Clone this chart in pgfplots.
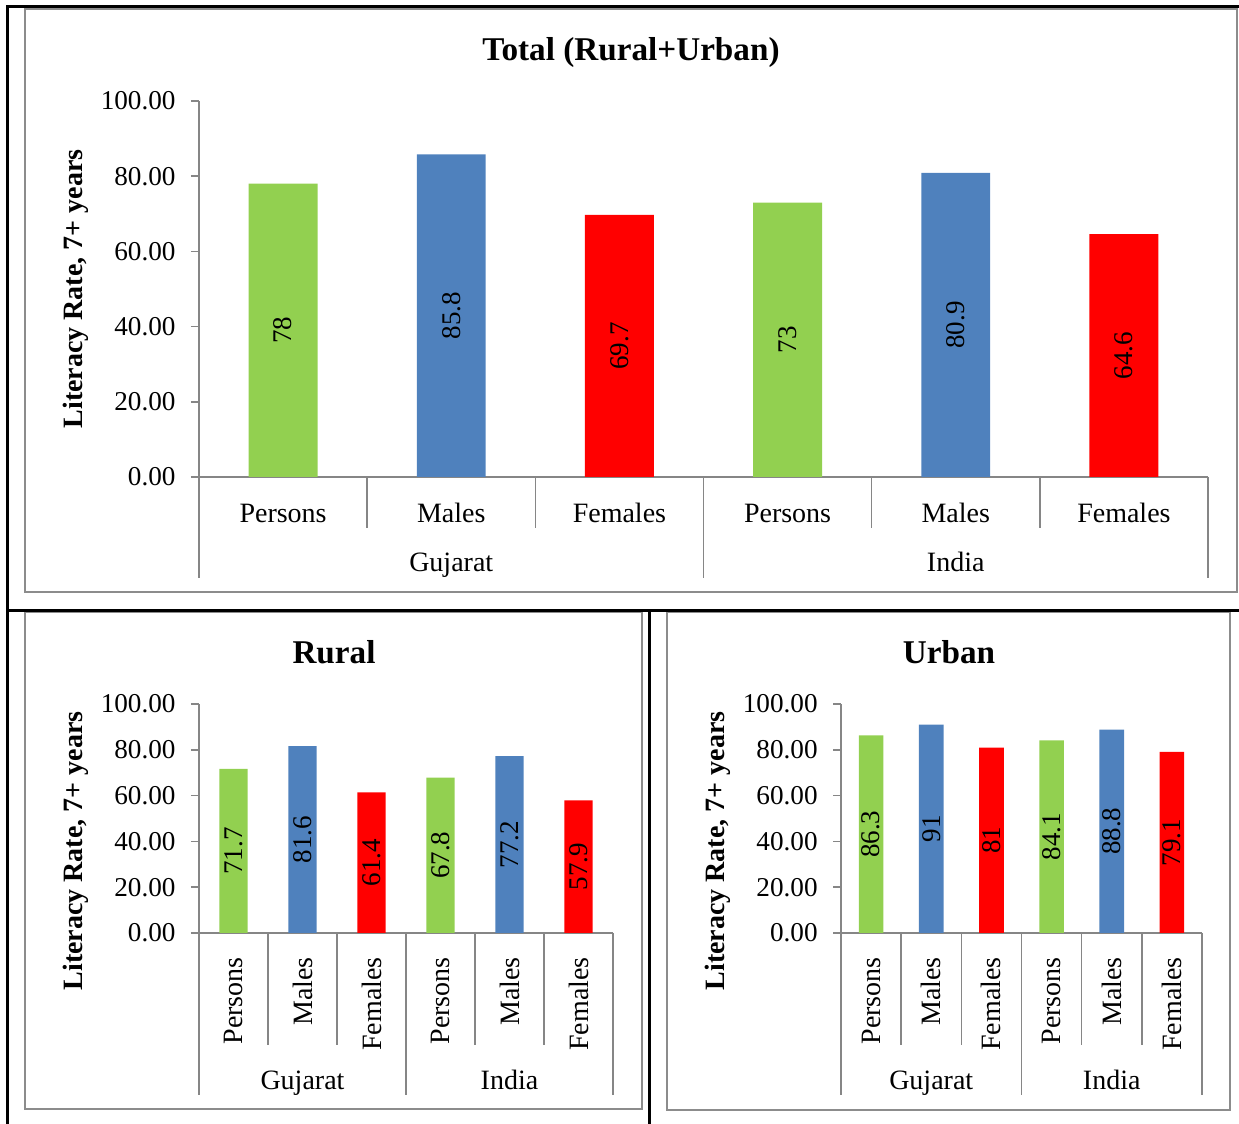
\documentclass[border=0pt]{standalone}
\usepackage{fontspec}
\setmainfont{Liberation Serif}
\usepackage{pgfplots}
\pgfplotsset{compat=1.18}
\usepackage{pgfplotstable}

\definecolor{persons}{HTML}{92D050}
\definecolor{males}{HTML}{4F81BD}
\definecolor{females}{HTML}{FF0000}
\definecolor{axisgray}{HTML}{868686}
\definecolor{framegray}{HTML}{8C8C8C}

% Literacy rate (age 7+), x = category slot: 1-3 Gujarat, 4-6 India
\pgfplotstableread{
x y
1 78
4 73
}\totP
\pgfplotstableread{
x y
2 85.8
5 80.9
}\totM
\pgfplotstableread{
x y
3 69.7
6 64.6
}\totF
\pgfplotstableread{
x y
1 71.7
4 67.8
}\rurP
\pgfplotstableread{
x y
2 81.6
5 77.2
}\rurM
\pgfplotstableread{
x y
3 61.4
6 57.9
}\rurF
\pgfplotstableread{
x y
1 86.3
4 84.1
}\urbP
\pgfplotstableread{
x y
2 91
5 88.8
}\urbM
\pgfplotstableread{
x y
3 81
6 79.1
}\urbF

\tikzset{catsep/.style={axisgray, line width=0.75pt}}

\pgfplotsset{
  /pgf/number format/assume math mode=true,
  litbase/.style={
    scale only axis,
    ybar, bar width=0.41, bar shift=0pt,
    ymin=0, ymax=100, ytick={0,20,...,100},
    xmin=0.5, xmax=6.5, enlargelimits=false,
    xtick={1,...,6},
    xticklabels={Persons,Males,Females,Persons,Males,Females},
    axis lines*=left,
    axis line style={draw=axisgray, line width=0.75pt},
    tick align=outside,
    major tick length=4pt,
    ytick style={draw=axisgray, line width=0.75pt},
    xtick style={draw=none},
    tick label style={font=\fontsize{13.6}{15}\selectfont},
    yticklabel style={anchor=east, inner sep=0pt,
      /pgf/number format/.cd, fixed, fixed zerofill, precision=2},
    yticklabel shift=7.5pt,
    ylabel={Literacy Rate, 7+ years},
    clip=false,
  },
  barlabels/.style={
    nodes near coords,
    visualization depends on={rawy \as \rawy},
    every node near coord/.append style={
      shift={(axis direction cs:0,-\rawy/2)},
      rotate=90, anchor=center, inner sep=0pt, text=black,
      font=\fontsize{13.5}{15}\selectfont},
  },
}

\begin{document}
\begin{tikzpicture}
\useasboundingbox (0,0) rectangle (619.5pt,562pt);

% panel frames
\draw[framegray, line width=1pt] (12.5pt,557.5pt) rectangle (618.5pt,266pt);
\draw[framegray, line width=1pt] (12.5pt,256pt) rectangle (321pt,7.5pt);
\draw[framegray, line width=1pt] (333.5pt,256pt) rectangle (615pt,7pt);
% table rules
\draw[black, line width=1.5pt] (3.5pt,0) -- (3.5pt,558.5pt) -- (619.5pt,558.5pt);
\draw[black, line width=1.5pt] (3.5pt,256.5pt) -- (619.5pt,256.5pt);
\draw[black, line width=1.5pt] (324.5pt,256.5pt) -- (324.5pt,0);

% titles
\node[font=\bfseries\fontsize{16.6}{18}\selectfont] at (315.5pt,535.5pt) {Total (Rural+Urban)};
\node[font=\bfseries\fontsize{16.6}{18}\selectfont] at (167pt,236pt) {Rural};
\node[font=\bfseries\fontsize{16.6}{18}\selectfont] at (474.5pt,236pt) {Urban};

% ---- Total ----
\begin{axis}[litbase,
  at={(99.5pt,323.5pt)}, anchor=south west,
  width=504.5pt, height=188pt,
  xticklabel style={anchor=base, inner sep=0pt, font=\fontsize{14}{15}\selectfont},
  xticklabel shift=19pt,
  every axis y label/.style={at={(rel axis cs:0,0.5)}, xshift=-61.5pt,
    rotate=90, anchor=center, font=\bfseries\fontsize{14}{15}\selectfont},
]
\addplot[fill=persons, draw=none, barlabels] table {\totP};
\addplot[fill=males, draw=none, barlabels] table {\totM};
\addplot[fill=females, draw=none, barlabels] table {\totF};
\pgfplotsinvokeforeach{1.5,2.5,4.5,5.5}{
  \draw[catsep] (axis cs:#1,0) -- ++(0pt,-25.5pt);}
\pgfplotsinvokeforeach{0.5,3.5,6.5}{
  \draw[catsep] (axis cs:#1,0) -- ++(0pt,-50.5pt);}
\node[anchor=base, font=\fontsize{14}{15}\selectfont] at ([yshift=-47.5pt]axis cs:2,0) {Gujarat};
\node[anchor=base, font=\fontsize{14}{15}\selectfont] at ([yshift=-47.5pt]axis cs:5,0) {India};
\end{axis}

% ---- Rural ----
\begin{axis}[litbase,
  at={(99.5pt,95.5pt)}, anchor=south west,
  width=207pt, height=114.5pt,
  xticklabel style={rotate=90, anchor=east, inner sep=0pt, font=\fontsize{14}{15}\selectfont},
  xticklabel shift=8pt,
  every axis y label/.style={at={(rel axis cs:0,0.358)}, xshift=-61.5pt,
    rotate=90, anchor=center, font=\bfseries\fontsize{14}{15}\selectfont},
]
\addplot[fill=persons, draw=none, barlabels] table {\rurP};
\addplot[fill=males, draw=none, barlabels] table {\rurM};
\addplot[fill=females, draw=none, barlabels] table {\rurF};
\pgfplotsinvokeforeach{1.5,2.5,4.5,5.5}{
  \draw[catsep] (axis cs:#1,0) -- ++(0pt,-56pt);}
\pgfplotsinvokeforeach{0.5,3.5,6.5}{
  \draw[catsep] (axis cs:#1,0) -- ++(0pt,-81pt);}
\node[anchor=base, font=\fontsize{14}{15}\selectfont] at ([yshift=-78.5pt]axis cs:2,0) {Gujarat};
\node[anchor=base, font=\fontsize{14}{15}\selectfont] at ([yshift=-78.5pt]axis cs:5,0) {India};
\end{axis}

% ---- Urban ----
\begin{axis}[litbase,
  at={(420.5pt,95.5pt)}, anchor=south west,
  width=180.5pt, height=114.5pt,
  xticklabel style={rotate=90, anchor=east, inner sep=0pt, font=\fontsize{14}{15}\selectfont},
  xticklabel shift=8pt,
  every axis y label/.style={at={(rel axis cs:0,0.358)}, xshift=-61.5pt,
    rotate=90, anchor=center, font=\bfseries\fontsize{14}{15}\selectfont},
]
\addplot[fill=persons, draw=none, barlabels] table {\urbP};
\addplot[fill=males, draw=none, barlabels] table {\urbM};
\addplot[fill=females, draw=none, barlabels] table {\urbF};
\pgfplotsinvokeforeach{1.5,2.5,4.5,5.5}{
  \draw[catsep] (axis cs:#1,0) -- ++(0pt,-56pt);}
\pgfplotsinvokeforeach{0.5,3.5,6.5}{
  \draw[catsep] (axis cs:#1,0) -- ++(0pt,-81pt);}
\node[anchor=base, font=\fontsize{14}{15}\selectfont] at ([yshift=-78.5pt]axis cs:2,0) {Gujarat};
\node[anchor=base, font=\fontsize{14}{15}\selectfont] at ([yshift=-78.5pt]axis cs:5,0) {India};
\end{axis}
\end{tikzpicture}
\end{document}
